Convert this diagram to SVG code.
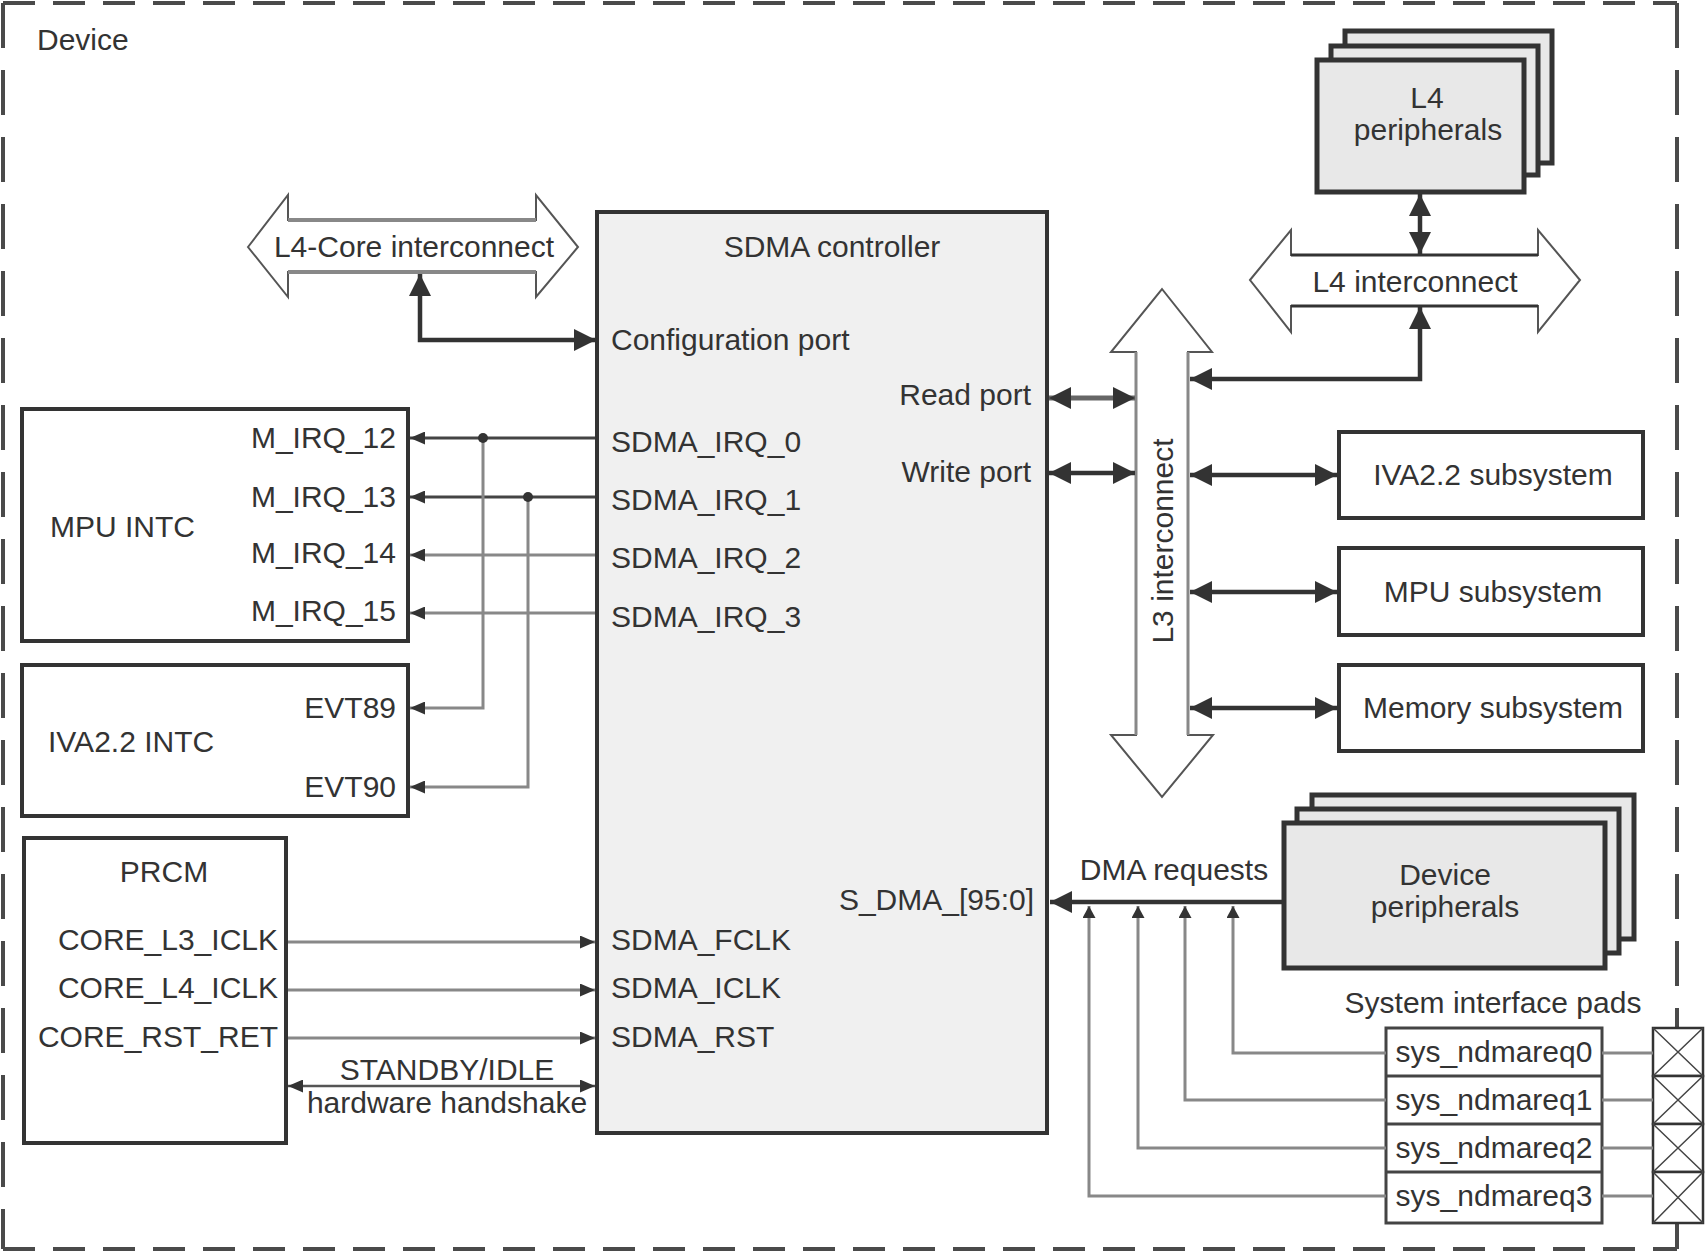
<svg xmlns="http://www.w3.org/2000/svg" width="1705" height="1252" viewBox="0 0 1705 1252">
<style>
text{font-family:"Liberation Sans",Arial,sans-serif;font-size:30px;fill:#333}
.mid{text-anchor:middle}
.end{text-anchor:end}
.box{fill:#fff;stroke:#333;stroke-width:4}
.gbox{fill:#e8e8e8;stroke:#333;stroke-width:5}
.blk{fill:#fff;stroke:#555;stroke-width:2}
.thick{fill:none;stroke:#333;stroke-width:4.5}
.sig{fill:none;stroke:#444;stroke-width:3}
.gsig{fill:none;stroke:#888;stroke-width:3}
.border{stroke:#4a4a4a;stroke-width:4}
</style>
<defs>
<marker id="big" markerUnits="userSpaceOnUse" markerWidth="22" markerHeight="22" refX="22" refY="11" orient="auto-start-reverse" viewBox="0 0 22 22"><path d="M0,0 L22,11 L0,22 z" fill="#333"/></marker>
<marker id="small" markerUnits="userSpaceOnUse" markerWidth="15" markerHeight="13" refX="15" refY="6.5" orient="auto-start-reverse" viewBox="0 0 15 13"><path d="M0,0 L15,6.5 L0,13 z" fill="#333"/></marker>
<marker id="tiny" markerUnits="userSpaceOnUse" markerWidth="12" markerHeight="13" refX="12" refY="6.5" orient="auto-start-reverse" viewBox="0 0 12 13"><path d="M0,0 L12,6.5 L0,13 z" fill="#333"/></marker>
</defs>
<rect width="1705" height="1252" fill="#fff"/>

<g id="device-border">
<line class="border" x1="3" y1="3" x2="1677" y2="3" stroke-dasharray="32 18"/>
<line class="border" x1="3" y1="1249" x2="1677" y2="1249" stroke-dasharray="32 18"/>
<line class="border" x1="3" y1="3" x2="3" y2="1249" stroke-dasharray="45 22"/>
<line class="border" x1="1677" y1="3" x2="1677" y2="1249" stroke-dasharray="45 22"/>
<text x="37" y="50">Device</text>
</g>

<g id="l4core">
<polygon class="blk" points="248,247 288,195 288,220 536,220 536,195 578,247 536,297 536,272 288,272 288,297"/>
<line x1="288" y1="220" x2="536" y2="220" stroke="#888" stroke-width="4"/>
<line x1="288" y1="272" x2="536" y2="272" stroke="#888" stroke-width="4"/>
<text class="mid" x="414" y="257">L4-Core interconnect</text>
</g>

<g id="sdma">
<rect x="597" y="212" width="450" height="921" fill="#f0f0f0" stroke="#333" stroke-width="4"/>
<text class="mid" x="832" y="257">SDMA controller</text>
<text x="611" y="350">Configuration port</text>
<text class="end" x="1031" y="405">Read port</text>
<text class="end" x="1031" y="482">Write port</text>
<text x="611" y="452">SDMA_IRQ_0</text>
<text x="611" y="510">SDMA_IRQ_1</text>
<text x="611" y="568">SDMA_IRQ_2</text>
<text x="611" y="627">SDMA_IRQ_3</text>
<text class="end" x="1034" y="910">S_DMA_[95:0]</text>
<text x="611" y="950">SDMA_FCLK</text>
<text x="611" y="998">SDMA_ICLK</text>
<text x="611" y="1047">SDMA_RST</text>
</g>

<g id="mpu-intc">
<rect class="box" x="22" y="409" width="386" height="232"/>
<text x="50" y="537">MPU INTC</text>
<text class="end" x="396" y="448">M_IRQ_12</text>
<text class="end" x="396" y="507">M_IRQ_13</text>
<text class="end" x="396" y="563">M_IRQ_14</text>
<text class="end" x="396" y="621">M_IRQ_15</text>
</g>

<g id="iva-intc">
<rect class="box" x="22" y="665" width="386" height="151"/>
<text x="48" y="752">IVA2.2 INTC</text>
<text class="end" x="396" y="718">EVT89</text>
<text class="end" x="396" y="797">EVT90</text>
</g>

<g id="prcm">
<rect class="box" x="24" y="838" width="262" height="305"/>
<text class="mid" x="164" y="882">PRCM</text>
<text class="end" x="278" y="950">CORE_L3_ICLK</text>
<text class="end" x="278" y="998">CORE_L4_ICLK</text>
<text class="end" x="278" y="1047">CORE_RST_RET</text>
</g>

<g id="l4-peripherals">
<rect class="gbox" x="1345" y="31" width="207" height="132"/>
<rect class="gbox" x="1331" y="46" width="207" height="129"/>
<rect class="gbox" x="1317" y="60" width="207" height="132"/>
<text class="mid" x="1427" y="108">L4</text>
<text class="mid" x="1428" y="140">peripherals</text>
</g>

<g id="l4-interconnect">
<polygon class="blk" points="1250,280 1291,230 1291,255 1538,255 1538,230 1580,280 1538,332 1538,306 1291,306 1291,332"/>
<line x1="1291" y1="255" x2="1538" y2="255" stroke="#333" stroke-width="3"/>
<line x1="1291" y1="306" x2="1538" y2="306" stroke="#333" stroke-width="3"/>
<text class="mid" x="1415" y="292">L4 interconnect</text>
</g>

<g id="l3-interconnect">
<polygon class="blk" points="1162,289 1212,352 1188,352 1188,735 1213,735 1162,797 1111,735 1136,735 1136,352 1111,352"/>
<line x1="1136" y1="352" x2="1136" y2="735" stroke="#888" stroke-width="3"/>
<line x1="1188" y1="352" x2="1188" y2="735" stroke="#888" stroke-width="3"/>
<text class="mid" transform="translate(1173,541) rotate(-90)" x="0" y="0">L3 interconnect</text>
</g>

<g id="iva-subsystem">
<rect class="box" x="1339" y="432" width="304" height="86"/>
<text class="mid" x="1493" y="485">IVA2.2 subsystem</text>
</g>
<g id="mpu-subsystem">
<rect class="box" x="1339" y="548" width="304" height="87"/>
<text class="mid" x="1493" y="602">MPU subsystem</text>
</g>
<g id="memory-subsystem">
<rect class="box" x="1339" y="665" width="304" height="86"/>
<text class="mid" x="1493" y="718">Memory subsystem</text>
</g>

<g id="device-peripherals">
<rect class="gbox" x="1312" y="795" width="322" height="144"/>
<rect class="gbox" x="1297" y="809" width="322" height="144"/>
<rect class="gbox" x="1284" y="823" width="321" height="145"/>
<text class="mid" x="1445" y="885">Device</text>
<text class="mid" x="1445" y="917">peripherals</text>
</g>

<g id="system-pads">
<text class="mid" x="1493" y="1013">System interface pads</text>
<rect x="1386" y="1028" width="216" height="195" fill="#fff" stroke="#444" stroke-width="3"/>
<line x1="1386" y1="1076" x2="1602" y2="1076" stroke="#444" stroke-width="3"/>
<line x1="1386" y1="1124" x2="1602" y2="1124" stroke="#444" stroke-width="3"/>
<line x1="1386" y1="1172" x2="1602" y2="1172" stroke="#444" stroke-width="3"/>
<text class="mid" x="1494" y="1062">sys_ndmareq0</text>
<text class="mid" x="1494" y="1110">sys_ndmareq1</text>
<text class="mid" x="1494" y="1158">sys_ndmareq2</text>
<text class="mid" x="1494" y="1206">sys_ndmareq3</text>
<g fill="#fff" stroke="#333" stroke-width="2.5">
<rect x="1653" y="1028" width="50" height="48"/>
<rect x="1653" y="1076" width="50" height="48"/>
<rect x="1653" y="1124" width="50" height="48"/>
<rect x="1653" y="1172" width="50" height="51"/>
</g>
<path d="M1653,1028 L1703,1076 M1703,1028 L1653,1076 M1653,1076 L1703,1124 M1703,1076 L1653,1124 M1653,1124 L1703,1172 M1703,1124 L1653,1172 M1653,1172 L1703,1223 M1703,1172 L1653,1223" stroke="#444" stroke-width="1.5" fill="none"/>
</g>

<g id="connectors">
<path class="thick" d="M420,274 L420,340 L596,340" marker-start="url(#big)" marker-end="url(#big)"/>
<path fill="none" stroke="#666" stroke-width="5" d="M1049,398 L1135,398" marker-start="url(#big)" marker-end="url(#big)"/>
<path class="thick" d="M1049,473 L1135,473" marker-start="url(#big)" marker-end="url(#big)"/>
<path class="thick" d="M1190,475 L1337,475" marker-start="url(#big)" marker-end="url(#big)"/>
<path class="thick" d="M1190,592 L1337,592" marker-start="url(#big)" marker-end="url(#big)"/>
<path class="thick" d="M1190,708 L1337,708" marker-start="url(#big)" marker-end="url(#big)"/>
<path class="thick" d="M1420,194 L1420,254" marker-start="url(#big)" marker-end="url(#big)"/>
<path class="thick" d="M1420,307 L1420,379 L1190,379" marker-start="url(#big)" marker-end="url(#big)"/>
<path class="thick" d="M1282,902 L1050,902" marker-end="url(#big)"/>
<path class="gsig" d="M1386,1053 L1233,1053 L1233,906" marker-end="url(#tiny)"/>
<path class="gsig" d="M1386,1100 L1185,1100 L1185,906" marker-end="url(#tiny)"/>
<path class="gsig" d="M1386,1148 L1138,1148 L1138,906" marker-end="url(#tiny)"/>
<path class="gsig" d="M1386,1196 L1089,1196 L1089,906" marker-end="url(#tiny)"/>
<path class="gsig" d="M1602,1053 L1653,1053 M1602,1100 L1653,1100 M1602,1148 L1653,1148 M1602,1196 L1653,1196"/>
<path class="sig" d="M595,438 L410,438" marker-end="url(#small)"/>
<path class="sig" d="M595,497 L410,497" marker-end="url(#small)"/>
<path class="gsig" d="M595,555 L410,555" marker-end="url(#small)"/>
<path class="gsig" d="M595,613 L410,613" marker-end="url(#small)"/>
<path class="gsig" d="M483,438 L483,708 L410,708" marker-end="url(#small)"/>
<path class="gsig" d="M528,497 L528,787 L410,787" marker-end="url(#small)"/>
<circle cx="483" cy="438" r="5" fill="#333"/>
<circle cx="528" cy="497" r="5" fill="#333"/>
<path class="gsig" stroke-width="4" d="M288,942 L595,942" marker-end="url(#small)"/>
<path class="gsig" stroke-width="4" d="M288,990 L595,990" marker-end="url(#small)"/>
<path class="gsig" stroke-width="4" d="M288,1038 L595,1038" marker-end="url(#small)"/>
<path fill="none" stroke="#555" stroke-width="2.5" d="M288,1086 L595,1086" marker-start="url(#small)" marker-end="url(#small)"/>
<text class="mid" x="447" y="1080">STANDBY/IDLE</text>
<text class="mid" x="447" y="1113">hardware handshake</text>
<text class="mid" x="1174" y="880">DMA requests</text>
</g>
</svg>
